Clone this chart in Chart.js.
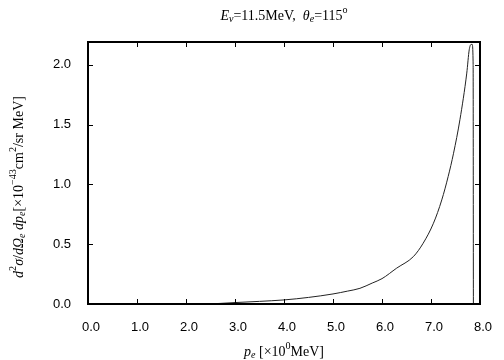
<!DOCTYPE html>
<html>
<head>
<meta charset="utf-8">
<script src="https://cdn.jsdelivr.net/npm/chart.js@4/dist/chart.umd.min.js"></script>
<style>
  html, body { margin: 0; padding: 0; background: #fff; }
  #wrap { width: 504px; height: 360px; }
</style>
</head>
<body>
<div id="wrap"><canvas id="crossSection" width="504" height="360"></canvas></div>
<script>
// electron momentum p_e [MeV] and cross section [1e-43 cm^2/sr MeV]
const momentum = [2.45, 2.7, 3.0, 3.5, 4.0, 4.5, 5.0, 5.3, 5.55, 5.8, 6.0, 6.3, 6.64, 6.84, 7.05, 7.22, 7.35, 7.46, 7.59, 7.73, 7.78, 7.82, 7.84, 7.86, 7.865];
const sigma = [0.0, 0.005, 0.012, 0.022, 0.034, 0.055, 0.084, 0.108, 0.131, 0.175, 0.212, 0.30, 0.396, 0.508, 0.675, 0.87, 1.065, 1.26, 1.54, 1.93, 2.125, 2.17, 2.17, 2.0, 0.0];
const xTicks = [0, 1, 2, 3, 4, 5, 6, 7, 8];
const yTicks = [0, 0.5, 1.0, 1.5, 2.0];

const points = momentum.map((p, i) => ({ x: p, y: sigma[i] }));

// draw text made of pieces: [text, italic, shift] shift: 0 normal, 1 sup, -1 sub
function richWidth(ctx, parts, size) {
    let w = 0;
    parts.forEach(p => {
        const s = p[2] ? size * 0.72 : size;
        ctx.font = (p[1] ? 'italic ' : '') + s + 'px "Liberation Serif", serif';
        w += ctx.measureText(p[0]).width;
    });
    return w;
}
function drawRich(ctx, parts, x, y, size) {
    let cx = x;
    parts.forEach(p => {
        const s = p[2] ? size * 0.72 : size;
        ctx.font = (p[1] ? 'italic ' : '') + s + 'px "Liberation Serif", serif';
        const dy = p[2] === 1 ? -size * 0.4 : (p[2] === -1 ? size * 0.25 : 0);
        ctx.fillText(p[0], cx, y + dy);
        cx += ctx.measureText(p[0]).width;
    });
}

const titleParts = [['E', true, 0], ['ν', true, -1], ['=11.5MeV,  ', false, 0], ['θ', true, 0], ['e', true, -1], ['=115', false, 0], ['o', false, 1]];
const xTitleParts = [['p', true, 0], ['e', true, -1], [' [×10', false, 0], ['0', false, 1], ['MeV]', false, 0]];
const yTitleParts = [['d', true, 0], ['2', false, 1], ['σ', true, 0], ['/', false, 0], ['d', true, 0], ['Ω', true, 0], ['e', true, -1], [' d', true, 0], ['p', true, 0], ['e', true, -1], ['[×10', false, 0], ['−43', false, 1], ['cm', false, 0], ['2', false, 1], ['/sr MeV]', false, 0]];

const framePlugin = {
    id: 'frame',
    afterDraw(chart) {
        const ctx = chart.ctx;
        const a = chart.chartArea;
        const xs = chart.scales.x, ys = chart.scales.y;
        ctx.save();
        ctx.strokeStyle = '#000';
        ctx.lineWidth = 1;
        ctx.beginPath();
        xTicks.forEach(v => {
            const px = Math.round(xs.getPixelForValue(v)) + 0.5;
            ctx.moveTo(px, a.bottom); ctx.lineTo(px, a.bottom - 5);
            ctx.moveTo(px, a.top); ctx.lineTo(px, a.top + 5);
        });
        yTicks.forEach(v => {
            const py = Math.round(ys.getPixelForValue(v)) + 0.5;
            ctx.moveTo(a.left, py); ctx.lineTo(a.left + 5, py);
            ctx.moveTo(a.right, py); ctx.lineTo(a.right - 5, py);
        });
        ctx.stroke();
        ctx.lineWidth = 2;
        ctx.strokeRect(a.left, a.top, a.right - a.left, a.bottom - a.top);

        ctx.fillStyle = '#000';
        ctx.textBaseline = 'middle';
        ctx.textAlign = 'left';
        const cx = (a.left + a.right) / 2;
        let w = richWidth(ctx, titleParts, 14);
        drawRich(ctx, titleParts, cx - w / 2, 16, 14);
        w = richWidth(ctx, xTitleParts, 14);
        drawRich(ctx, xTitleParts, cx - w / 2, 352, 14);

        ctx.translate(19, 187);
        ctx.rotate(-Math.PI / 2);
        w = richWidth(ctx, yTitleParts, 14);
        drawRich(ctx, yTitleParts, -w / 2, 0, 14);
        ctx.restore();
    }
};

new Chart(document.getElementById('crossSection').getContext('2d'), {
    type: 'scatter',
    data: {
        datasets: [{
            data: points,
            showLine: true,
            borderColor: '#222',
            borderWidth: 1,
            pointRadius: 0,
            cubicInterpolationMode: 'monotone',
            fill: false
        }]
    },
    options: {
        responsive: false,
        animation: false,
        layout: { padding: { top: 42, right: 24, left: 0, bottom: 0 } },
        plugins: { legend: { display: false }, tooltip: { enabled: false } },
        scales: {
            x: {
                type: 'linear',
                min: 0,
                max: 8,
                afterFit: s => { s.height = 56; },
                afterBuildTicks: s => { s.ticks = xTicks.map(v => ({ value: v })); },
                grid: { display: false },
                border: { display: false },
                ticks: {
                    padding: 8,
                    labelOffset: 3,
                    color: '#000',
                    font: { family: '"Liberation Sans", Arial, sans-serif', size: 13 },
                    callback: v => v.toFixed(1)
                }
            },
            y: {
                type: 'linear',
                min: 0,
                max: 2.19,
                afterFit: s => { s.width = 88; },
                afterBuildTicks: s => { s.ticks = yTicks.map(v => ({ value: v })); },
                grid: { display: false },
                border: { display: false },
                ticks: {
                    padding: 9,
                    color: '#000',
                    font: { family: '"Liberation Sans", Arial, sans-serif', size: 13 },
                    callback: v => v.toFixed(1)
                }
            }
        }
    },
    plugins: [framePlugin]
});
</script>
</body>
</html>
